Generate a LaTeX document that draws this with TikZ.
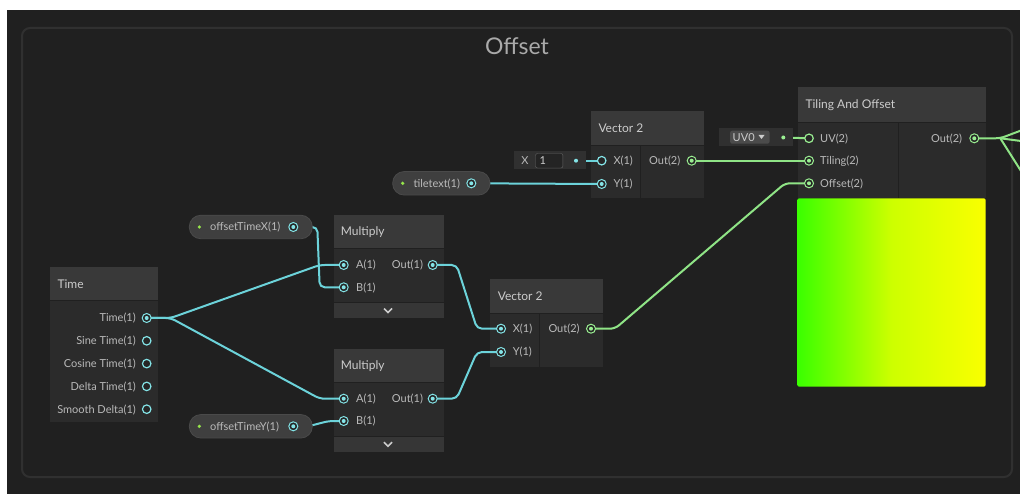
\documentclass[tikz,border=0pt]{standalone}
\usepackage{fontspec}
\setmainfont{Lato}
\usetikzlibrary{calc}

\definecolor{canvas}{HTML}{202020}
\definecolor{framec}{HTML}{303030}
\definecolor{hdrc}{HTML}{393939}
\definecolor{bodyc}{HTML}{2B2B2B}
\definecolor{footc}{HTML}{363636}
\definecolor{txtc}{HTML}{CCCCCC}
\definecolor{ptxtc}{HTML}{BABABA}
\definecolor{titlec}{HTML}{AAAAAA}
\definecolor{pillc}{HTML}{3F3F3F}
\definecolor{pillb}{HTML}{4A4A4A}
\definecolor{cyanp}{HTML}{84E4E7}
\definecolor{cyanw}{HTML}{6CD3DA}
\definecolor{greenp}{HTML}{9AEF92}
\definecolor{greenw}{HTML}{8FE486}
\definecolor{limec}{HTML}{96E64B}
\definecolor{portbg}{HTML}{262626}
\definecolor{fieldc}{HTML}{303030}
\definecolor{inputc}{HTML}{242424}
\definecolor{btnc}{HTML}{4B4B4B}

\pgfdeclarelayer{boxes}
\pgfdeclarelayer{wires}
\pgfsetlayers{boxes,wires,main}

\tikzset{
  hdr/.style={anchor=north west,fill=hdrc,minimum height=33pt,inner sep=0pt},
  sect/.style={anchor=north west,fill=bodyc,inner sep=0pt},
  foot/.style={anchor=north west,fill=footc,inner sep=0pt,minimum height=14.7pt},
  htxt/.style={anchor=west,text=txtc,inner sep=0pt,text height=8.2pt,text depth=0pt,font=\fontsize{12}{14}\selectfont},
  ptxt/.style={anchor=west,text=ptxtc,inner sep=0pt,text height=7.8pt,text depth=0pt,font=\fontsize{11}{13}\selectfont},
  port/.style={circle,draw=#1,line width=1pt,fill=portbg,minimum size=9pt,inner sep=0pt,
    path picture={\fill[#1] (path picture bounding box.center) circle (2pt);}},
  open/.style={circle,draw=#1,line width=1.2pt,fill=portbg,minimum size=8.5pt,inner sep=0pt},
  dot/.style={circle,fill=#1,minimum size=4pt,inner sep=0pt},
  pill/.style={fill=pillc,draw=pillb,line width=0.8pt,rounded corners=11.5pt,minimum height=23.5pt,inner sep=0pt},
  wire/.style={draw=#1,line width=2pt,rounded corners=5pt},
  chev/.style={draw=txtc,line width=1.5pt},
}

\begin{document}
\begin{tikzpicture}[x=1pt,y=-1pt]
\useasboundingbox (0,0) rectangle (1020,494);

\begin{pgfonlayer}{boxes}
\fill[white] (0,0) rectangle (1020,494);
\fill[canvas] (7,10) rectangle (1020,494);
\draw[framec,line width=2pt,rounded corners=8pt] (22,28) rectangle (1012,477);
% Time
\node[hdr,minimum width=108pt] (timeH) at (50,267) {};
\node[sect,minimum width=108pt,minimum height=121pt] (timeB) at (50,301) {};
% Tiling And Offset
\node[hdr,minimum width=188.4pt,minimum height=34.4pt] (tileH) at (797.3,87.3) {};
\node[sect,minimum width=100.5pt,minimum height=75pt] (tileIn) at (797.3,122.7) {};
\node[sect,minimum width=86.9pt,minimum height=75pt] (tileOutB) at (898.8,122.7) {};
\shade[left color={rgb,255:red,58;green,255;blue,0},right color={rgb,255:red,250;green,255;blue,0},
  middle color={rgb,255:red,205;green,255;blue,0},rounded corners=2pt] (797.3,198.3) rectangle (985.7,386.7);
\end{pgfonlayer}

\node[text=titlec,font=\fontsize{23}{26}\selectfont] (title) at (517,46) {Offset};

% Time outputs
\node[htxt] (timeT) at (57.3,284) {Time};
\node[ptxt,anchor=east] (timeL) at (136,318) {Time(1)};
\node[port=cyanp] (timeP) at (146.7,318) {};
\foreach \t [count=\i] in {Sine Time(1),Cosine Time(1),Delta Time(1),Smooth Delta(1)}{
  \node[ptxt,anchor=east] (timeL\i) at (136,318+\i*22.8) {\t};
  \node[open=cyanp] (timeP\i) at (146.7,318+\i*22.8) {};
}

% Multiply
\foreach \n/\y in {mulA/215,mulB/348.7}{
  \begin{pgfonlayer}{boxes}
  \node[hdr,minimum width=110.7pt] (\n H) at (333.3,\y) {};
  \node[sect,minimum width=49pt,minimum height=53pt] (\n In) at (333.3,\y+34) {};
  \node[sect,minimum width=60.8pt,minimum height=53pt] (\n OutB) at (383.2,\y+34) {};
  \node[foot,minimum width=110.7pt] (\n F) at (333.3,\y+88) {};
  \end{pgfonlayer}
  \node[htxt] (\n T) at (340.7,\y+16.5) {Multiply};
  \node[port=cyanp] (\n A) at (343.7,\y+50) {};
  \node[ptxt] (\n AL) at (356,\y+50) {A(1)};
  \node[port=cyanp] (\n B) at (343.7,\y+72.3) {};
  \node[ptxt] (\n BL) at (356,\y+72.3) {B(1)};
  \node[ptxt] (\n OL) at (391.7,\y+50) {Out(1)};
  \node[port=cyanp] (\n O) at (432.7,\y+50) {};
  \draw[chev] (384,\y+93.5) -- (388,\y+97.5) -- (392,\y+93.5);
}

% Vector 2
\foreach \n/\x/\y in {vecA/590.7/111,vecB/490/279}{
  \begin{pgfonlayer}{boxes}
  \node[hdr,minimum width=112.7pt,minimum height=34pt] (\n H) at (\x,\y) {};
  \node[sect,minimum width=48.8pt,minimum height=52.3pt] (\n In) at (\x,\y+35) {};
  \node[sect,minimum width=62.9pt,minimum height=52.3pt] (\n OutB) at (\x+49.8,\y+35) {};
  \end{pgfonlayer}
  \node[htxt] (\n T) at (\x+7.6,\y+17) {Vector 2};
  \node[ptxt] (\n XL) at (\x+22.6,\y+49.7) {X(1)};
  \node[port=cyanp] (\n Y) at (\x+11,\y+73) {};
  \node[ptxt] (\n YL) at (\x+22.6,\y+73) {Y(1)};
  \node[ptxt] (\n OL) at (\x+58.3,\y+49.7) {Out(2)};
  \node[port=greenp] (\n O) at (\x+101,\y+49.7) {};
}
\node[open=cyanp] (vecAX) at (601.7,160.7) {};
\node[port=cyanp] (vecBX) at (501,328.7) {};

% X field
\node[anchor=north west,fill=fieldc,minimum width=72.7pt,minimum height=18pt,inner sep=0pt] (xF) at (513.3,151.3) {};
\node[ptxt,anchor=center] (xFL) at (525,160.5) {X};
\node[anchor=north west,fill=inputc,draw=black!60,rounded corners=2pt,minimum width=27.4pt,minimum height=14.5pt,inner sep=0pt] (xIn) at (535.3,153.3) {};
\node[ptxt,text=txtc] (xVal) at (539.5,160.5) {1};
\node[dot=cyanp] (xDot) at (576,160.7) {};

% UV field
\node[anchor=north west,fill=fieldc,minimum width=74.4pt,minimum height=17.4pt,inner sep=0pt] (uvF) at (718.3,128.3) {};
\node[anchor=north west,fill=btnc,rounded corners=2pt,minimum width=39.3pt,minimum height=13pt,inner sep=0pt] (uvBtn) at (730,130.5) {};
\node[ptxt,text=txtc] (uvVal) at (732.5,137.2) {UV0};
\fill[txtc] (758.5,135) -- (764.5,135) -- (761.5,139) -- cycle;
\node[dot=greenp] (uvDot) at (783.3,137.5) {};

% Tiling And Offset ports
\node[htxt] (tileT) at (805.3,104.5) {Tiling And Offset};
\node[open=greenp] (tileUV) at (809,138.3) {};
\node[ptxt] (tileUVL) at (820,138.3) {UV(2)};
\node[port=greenp] (tileTil) at (809,160.7) {};
\node[ptxt] (tileTilL) at (820,160.7) {Tiling(2)};
\node[port=greenp] (tileOff) at (809,183.3) {};
\node[ptxt] (tileOffL) at (820,183.3) {Offset(2)};
\node[ptxt,anchor=east] (tileOL) at (962.3,138.3) {Out(2)};
\node[port=greenp] (tileO) at (974.3,138.3) {};

% properties
\node[pill,minimum width=123pt] (propX) at (250.8,227) {};
\node[pill,minimum width=123pt] (propY) at (250.8,426.3) {};
\node[pill,minimum width=97.3pt] (propT) at (441.3,183.3) {};
\node[ptxt] (propXL) at (210,227) {offsetTimeX(1)};
\node[ptxt] (propYL) at (210,426.3) {offsetTimeY(1)};
\node[ptxt] (propTL) at (413.3,183.3) {tiletext(1)};
\foreach \p/\x/\y in {propX/199.3/227,propY/199.3/426.3,propT/402.7/183.3}{
  \node[dot=limec,minimum size=3.6pt] (\p D) at (\x,\y) {};
}
\node[port=cyanp] (propXP) at (293.3,227) {};
\node[port=cyanp] (propYP) at (293.3,426.3) {};
\node[port=cyanp] (propTP) at (471.3,183.3) {};

\coordinate (outA) at (1021,130.5);
\coordinate (outB) at (1021,141);
\coordinate (outC) at (1021,171);

% wires
\begin{pgfonlayer}{wires}
\draw[wire=cyanw] (timeP.center) -- ++(24,0) -- ($(mulAA)+(-24,0)$) -- (mulAA.center);
\draw[wire=cyanw] (timeP.center) -- ++(24,0) -- ($(mulBA)+(-24,0)$) -- (mulBA.center);
\draw[wire=cyanw] (propXP.center) -- ++(24,0) -- ($(mulAB)+(-24,0)$) -- (mulAB.center);
\draw[wire=cyanw] (propYP.center) -- ++(15,0) -- ($(mulBB)+(-15,0)$) -- (mulBB.center);
\draw[wire=cyanw] (mulAO.center) -- ++(24,0) -- ($(vecBX)+(-24,0)$) -- (vecBX.center);
\draw[wire=cyanw] (mulBO.center) -- ++(24,0) -- ($(vecBY)+(-24,0)$) -- (vecBY.center);
\draw[wire=cyanw] (propTP.center) -- (vecAY.center);
\draw[wire=cyanw] (xDot.center) -- (vecAX.center);
\draw[wire=greenw] (vecBO.center) -- ++(24,0) -- ($(tileOff)+(-24,0)$) -- (tileOff.center);
\draw[wire=greenw] (vecAO.center) -- (tileTil.center);
\draw[wire=greenw] (uvDot.center) -- (tileUV.center);
\draw[wire=greenw] (tileO.center) -- ++(26,0) coordinate (fork) -- (outA);
\draw[wire=greenw] (fork) -- (outB);
\draw[wire=greenw] (fork) -- (outC);
\end{pgfonlayer}
\end{tikzpicture}
\end{document}
